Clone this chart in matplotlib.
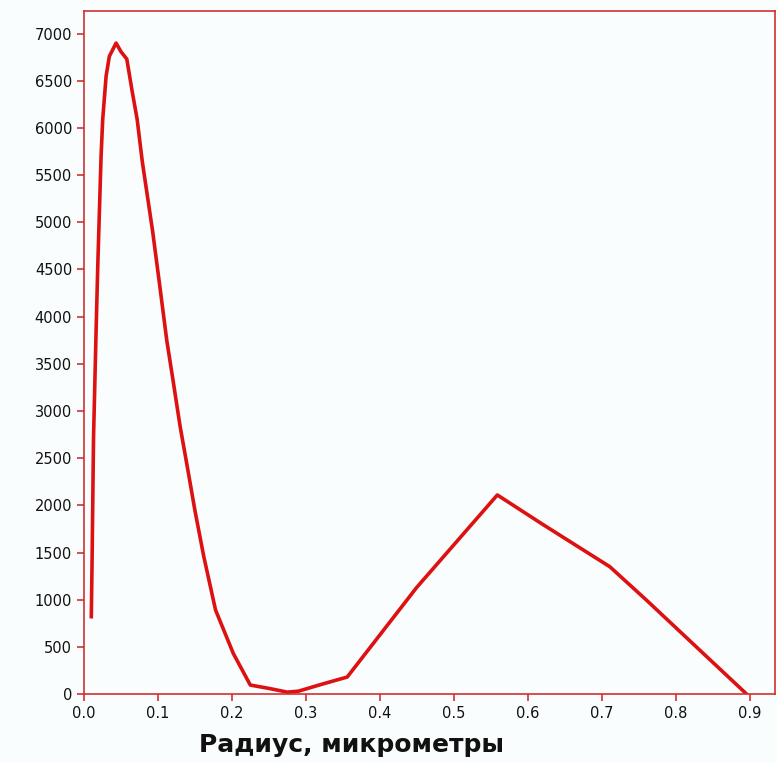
import matplotlib
matplotlib.use("Agg")
import matplotlib.pyplot as plt

# Size distribution
radius = [0.010, 0.011, 0.013, 0.0165, 0.0187, 0.021, 0.0232, 0.0254, 0.030, 0.0344,
          0.0435, 0.050, 0.058, 0.065, 0.072, 0.079, 0.086, 0.093, 0.103, 0.112,
          0.121, 0.130, 0.140, 0.150, 0.162, 0.178, 0.202, 0.225, 0.250, 0.275,
          0.290, 0.320, 0.356, 0.450, 0.559, 0.620, 0.711, 0.760, 0.896]
count = [820, 1390, 2720, 3860, 4530, 5130, 5700, 6090, 6550, 6760,
         6900, 6810, 6730, 6400, 6090, 5640, 5270, 4900, 4300, 3750,
         3300, 2840, 2400, 1950, 1460, 890, 430, 95, 60, 20,
         30, 100, 180, 1130, 2110, 1800, 1350, 1000, 0]

red = "#dd1111"

fig = plt.figure(figsize=(7.77, 7.63), dpi=100, facecolor="#fafdfd")
ax = fig.add_axes([0.108, 0.0904, 0.889, 0.8952])
ax.set_facecolor("#fafdfd")

ax.plot(radius, count, color=red, lw=2.6, solid_joinstyle="round")

ax.set_xlim(0, 0.934)
ax.set_ylim(0, 7240)
ax.set_xticks([0.0, 0.1, 0.2, 0.3, 0.4, 0.5, 0.6, 0.7, 0.8, 0.9])
ax.set_xticklabels(["0.0", "0.1", "0.2", "0.3", "0.4", "0.5", "0.6", "0.7", "0.8", "0.9"])
ax.set_yticks(range(0, 7001, 500))

for s in ax.spines.values():
    s.set_color("#d03030")
    s.set_linewidth(1.2)
ax.tick_params(colors="#d03030", labelcolor="#111111", labelsize=10.5,
               length=5, width=1.2, direction="out")

fig.text(0.452, 0.024, "Радиус, микрометры", fontsize=18, fontweight="bold",
         ha="center", va="center", color="#111111")

fig.savefig("out.png", dpi=100, facecolor=fig.get_facecolor())
